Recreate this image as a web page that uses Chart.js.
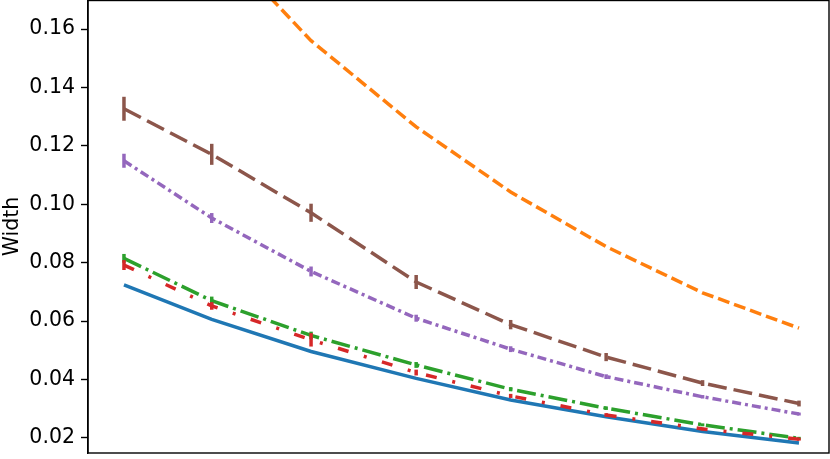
<!DOCTYPE html>
<html>
<head>
<meta charset="utf-8">
<script src="https://cdn.jsdelivr.net/npm/chart.js@4/dist/chart.umd.min.js"></script>
<style>
  html, body { margin: 0; padding: 0; background: #fff; }
  #wrap { width: 830px; height: 459px; position: relative; }
</style>
</head>
<body>
<div id="wrap"><canvas id="c" width="830" height="459"></canvas></div>
<script>
// ---- data ----
const xValues = [1, 1.91, 2.94, 4.03, 5.01, 6.0, 7.0, 8.0];
const yTicks = [0.02, 0.04, 0.06, 0.08, 0.10, 0.12, 0.14, 0.16];
const yLabel = 'Width';

const blueVals   = [0.0724, 0.0606, 0.0496, 0.0404, 0.0330, 0.0273, 0.0222, 0.0183];
const orangeVals = [0.235, 0.192, 0.1560, 0.1265, 0.1042, 0.0855, 0.0697, 0.0576];
const greenVals  = [0.0815, 0.0670, 0.0551, 0.0450, 0.0367, 0.0302, 0.0245, 0.0199];
const redVals    = [0.0792, 0.0652, 0.0536, 0.0424, 0.0344, 0.0279, 0.0231, 0.0196];
const purpleVals = [0.1149, 0.0953, 0.0770, 0.0610, 0.0504, 0.0410, 0.0341, 0.0282];
const brownVals  = [0.1327, 0.1171, 0.0971, 0.0734, 0.0588, 0.0477, 0.0388, 0.0318];

const greenErr  = [0.0015, 0.0014, 0.0013, 0.0010, 0.0007, 0.0006, 0.0005, 0.0005];
const redErr    = [0.0017, 0.0013, 0.0023, 0.0010, 0.0007, 0.0006, 0.0005, 0.0005];
const purpleErr = [0.0024, 0.0017, 0.0017, 0.0012, 0.0010, 0.0008, 0.0006, 0.0005];
const brownErr  = [0.0041, 0.0036, 0.0031, 0.0024, 0.0016, 0.0014, 0.0010, 0.0010];

const xMin = 0.627, xMax = 8.311;
const yMin = 0.01486, yMax = 0.16993;
const LW = 3.5;

function pts(vals) { return vals.map((v, i) => ({ x: xValues[i], y: v })); }

function ds(label, vals, color, dash, order, err) {
  return {
    label, data: pts(vals), borderColor: color, backgroundColor: color,
    borderWidth: LW, borderDash: dash, pointRadius: 0, fill: false,
    tension: 0, clip: 0, order, errors: err || null,
    borderCapStyle: 'butt'
  };
}

const datasets = [
  ds('blue',   blueVals,   '#1f77b4', [],              6),
  ds('orange', orangeVals, '#ff7f0e', [12, 5],         5),
  ds('green',  greenVals,  '#2ca02c', [19, 5, 3, 5],   4, greenErr),
  ds('red',    redVals,    '#d62728', [11, 16, 3, 16], 3, redErr),
  ds('purple', purpleVals, '#9467bd', [9, 4, 3, 4],    2, purpleErr),
  ds('brown',  brownVals,  '#8c564b', [19, 7],         1, brownErr)
];

const errorBars = {
  id: 'errorBars',
  afterDatasetDraw(chart, args) {
    const d = chart.data.datasets[args.index];
    if (!d.errors) return;
    const ctx = chart.ctx, xs = chart.scales.x, ys = chart.scales.y, a = chart.chartArea;
    ctx.save();
    ctx.beginPath(); ctx.rect(a.left, a.top, a.right - a.left, a.bottom - a.top); ctx.clip();
    ctx.strokeStyle = d.borderColor; ctx.lineWidth = LW; ctx.setLineDash([]);
    d.data.forEach((p, i) => {
      const x = xs.getPixelForValue(p.x);
      ctx.beginPath();
      ctx.moveTo(x, ys.getPixelForValue(p.y - d.errors[i]));
      ctx.lineTo(x, ys.getPixelForValue(p.y + d.errors[i]));
      ctx.stroke();
    });
    ctx.restore();
  }
};

const frame = {
  id: 'frame',
  afterDraw(chart) {
    const a = chart.chartArea, ctx = chart.ctx;
    ctx.save();
    ctx.strokeStyle = '#000'; ctx.lineWidth = 1.4;
    ctx.strokeRect(a.left, a.top + 0.5, a.right - a.left, a.bottom - a.top - 0.5);
    ctx.restore();
  }
};

new Chart(document.getElementById('c'), {
  type: 'line',
  data: { datasets },
  options: {
    responsive: false, animation: false, devicePixelRatio: 1,
    layout: { padding: { top: 0, right: 1, bottom: 6, left: 0 } },
    plugins: { legend: { display: false }, tooltip: { enabled: false } },
    scales: {
      x: { type: 'linear', min: xMin, max: xMax, display: false },
      y: {
        type: 'linear', min: yMin, max: yMax,
        afterBuildTicks: s => { s.ticks = yTicks.map(v => ({ value: v })); },
        afterFit: s => { s.width = 88; s.paddingTop = 0; s.paddingBottom = 0; },
        ticks: {
          color: '#000', padding: 6,
          font: { family: 'DejaVu Sans', size: 20.5 },
          callback: v => Number(v).toFixed(2)
        },
        grid: { drawOnChartArea: false, drawTicks: true, tickLength: 7, tickWidth: 1.4, tickColor: '#000' },
        border: { display: true, color: '#000', width: 1.4 },
        title: { display: true, text: yLabel, color: '#000', padding: 0,
                 font: { family: 'DejaVu Sans', size: 20.5 } }
      }
    }
  },
  plugins: [errorBars, frame]
});
</script>
</body>
</html>
